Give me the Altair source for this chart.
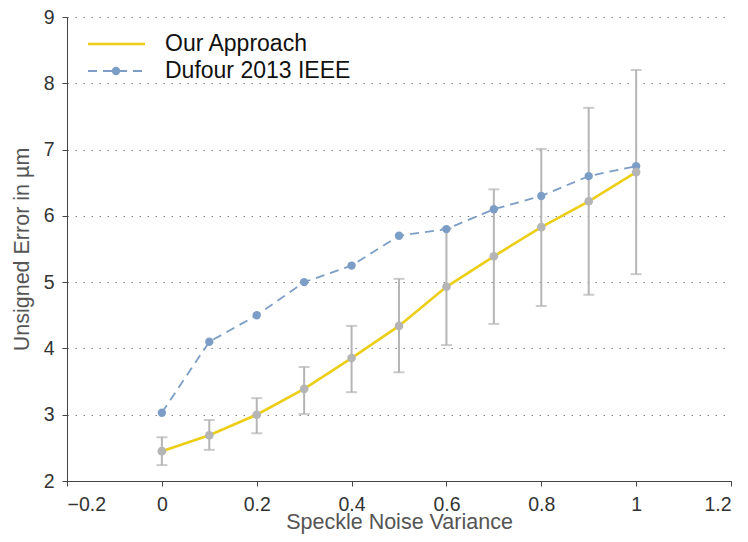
import altair as alt
import pandas as pd

variance = [0.0, 0.1, 0.2, 0.3, 0.4, 0.5, 0.6, 0.7, 0.8, 0.9, 1.0]
ours = [2.45, 2.69, 3.0, 3.39, 3.855, 4.34, 4.93, 5.39, 5.83, 6.22, 6.66]
ours_low = [2.24, 2.47, 2.72, 3.01, 3.34, 3.64, 4.05, 4.37, 4.64, 4.81, 5.12]
ours_high = [2.66, 2.92, 3.25, 3.72, 4.34, 5.05, 5.81, 6.40, 7.01, 7.63, 8.20]
dufour = [3.03, 4.10, 4.50, 5.00, 5.25, 5.70, 5.80, 6.10, 6.30, 6.60, 6.75]

legend_labels = ["Our Approach", "Dufour 2013 IEEE"]

YELLOW = "#EDCE17"
BLUE = "#7C9EC6"
GRAY = "#B5B5B5"
FONT = "Liberation Sans"

df = pd.DataFrame({"x": variance, "ours": ours, "lo": ours_low, "hi": ours_high, "duf": dufour})

xscale = alt.Scale(domain=[-0.2, 1.2], nice=False, zero=False)
yscale = alt.Scale(domain=[2, 9], nice=False, zero=False)

xax = alt.Axis(values=[-0.2, 0, 0.2, 0.4, 0.6, 0.8, 1.0, 1.2], format="~g", grid=False,
               title="Speckle Noise Variance", tickSize=5, labelPadding=9, titlePadding=-2)
yax = alt.Axis(values=list(range(2, 10)), format="d", grid=True, gridDash=[1.5, 6.5],
               gridColor="#8a8a8a", gridWidth=1, title="Unsigned Error in µm",
               tickSize=5, labelPadding=8, titlePadding=10)

base = alt.Chart(df)
X = alt.X("x:Q", scale=xscale, axis=xax)

bars = base.mark_rule(color=GRAY, strokeWidth=2).encode(
    x=X, y=alt.Y("lo:Q", scale=yscale, axis=yax), y2="hi:Q")
caps_hi = base.mark_tick(color=GRAY, thickness=2, size=11, orient="horizontal").encode(
    x="x:Q", y="hi:Q")
caps_lo = base.mark_tick(color=GRAY, thickness=2, size=11, orient="horizontal").encode(
    x="x:Q", y="lo:Q")

duf_line = base.mark_line(color=BLUE, strokeWidth=1.8, strokeDash=[9, 6]).encode(x="x:Q", y="duf:Q")
duf_pts = base.mark_circle(color=BLUE, size=70, opacity=1).encode(x="x:Q", y="duf:Q")
our_line = base.mark_line(color=YELLOW, strokeWidth=2.6).encode(x="x:Q", y="ours:Q")
our_pts = base.mark_circle(color=GRAY, size=75, opacity=1).encode(x="x:Q", y="ours:Q")

# manual legend
leg_df = pd.DataFrame({"label": legend_labels, "row": [0, 1]})
leg_y = [27, 54]
l0 = alt.Chart(leg_df).transform_filter("datum.row == 0")
l1 = alt.Chart(leg_df).transform_filter("datum.row == 1")
leg1 = l0.mark_rule(color=YELLOW, strokeWidth=2.6).encode(
    x=alt.value(21), x2=alt.value(78), y=alt.value(leg_y[0]))
leg2 = l1.mark_rule(color=BLUE, strokeWidth=1.8, strokeDash=[9, 6]).encode(
    x=alt.value(21), x2=alt.value(80), y=alt.value(leg_y[1]))
leg2p = l1.mark_circle(color=BLUE, size=70, opacity=1).encode(
    x=alt.value(49), y=alt.value(leg_y[1]))
txt_kw = dict(align="left", baseline="middle", fontSize=23, font=FONT, color="#111")
leg_t0 = l0.mark_text(**txt_kw).encode(x=alt.value(98), y=alt.value(leg_y[0]), text="label:N")
leg_t1 = l1.mark_text(**txt_kw).encode(x=alt.value(98), y=alt.value(leg_y[1]), text="label:N")

chart = alt.layer(bars, caps_hi, caps_lo, duf_line, duf_pts, our_line, our_pts,
                  leg1, leg2, leg2p, leg_t0, leg_t1).properties(
    width=664, height=464,
    padding={"left": 59, "top": 9, "right": 9, "bottom": 53},
    autosize="none",
).configure_view(stroke=None).configure_axis(
    labelFont=FONT, titleFont=FONT, labelFontSize=19.5, titleFontSize=21.5,
    labelColor="#333", titleColor="#555", titleFontWeight="normal",
    domainColor="#444", tickColor="#444", domainWidth=1, tickWidth=1,
)

chart.save("out.html", embed_options={"renderer": "svg", "actions": False})
